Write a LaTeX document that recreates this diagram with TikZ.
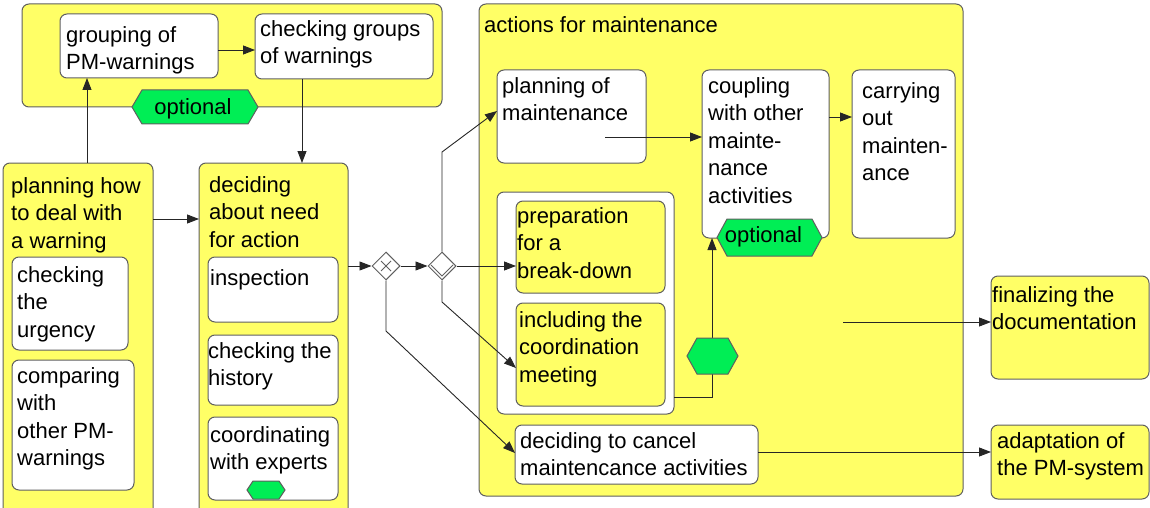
\documentclass[tikz,border=0pt]{standalone}
\usepackage{fontspec}
\setmainfont{Liberation Sans}
\usetikzlibrary{arrows.meta,shapes.geometric}
\definecolor{ylw}{RGB}{255,255,102}
\definecolor{grn}{RGB}{0,238,85}
\definecolor{edgec}{RGB}{95,95,95}
\newcommand\bxfont{\fontsize{22}{27.5}\selectfont}
\newcommand\hexshape[6]{%
  \draw[hexs] ({#2-#4},#3) -- ({#2-#4+#6},{#3-#5}) -- ({#2+#4-#6},{#3-#5}) -- ({#2+#4},#3) -- ({#2+#4-#6},{#3+#5}) -- ({#2-#4+#6},{#3+#5}) -- cycle;
  \coordinate (#1) at (#2,#3);}
\begin{document}
\begin{tikzpicture}[x=1pt,y=-1pt,
  box/.style={draw=edgec, line width=1pt, rounded corners=7pt, anchor=north west, inner sep=0pt, outer sep=0pt},
  ybox/.style={box, fill=ylw},
  wbox/.style={box, fill=white},
  txt/.style={anchor=north west, inner sep=0pt, align=left, font=\bxfont},
  ctxt/.style={anchor=base, inner sep=0pt, font=\bxfont},
  conn/.style={draw=black!85, line width=0.9pt},
  arr/.style={conn, -{Triangle[length=12pt,width=9pt]}},
  gw/.style={diamond, draw=edgec, fill=white, line width=1pt, minimum width=28pt, minimum height=28pt, inner sep=0pt},
  hexs/.style={draw=edgec, fill=grn, line width=1pt}]
\useasboundingbox (0,0) rectangle (1150,508);
\clip (0,0) rectangle (1150,508);
% top group
\node[ybox, minimum width=420pt, minimum height=103pt] (topg) at (22,4) {};
\node[wbox, minimum width=158pt, minimum height=64pt] (grp) at (60,14) {};
\node[wbox, minimum width=178pt, minimum height=65pt] (chk) at (255,14) {};
\hexshape{opt1}{195}{107}{63}{17}{10}
% left columns
\node[ybox, minimum width=150pt, minimum height=357pt] (plan) at (3,163) {};
\node[wbox, minimum width=116pt, minimum height=93pt] (urg) at (12,257) {};
\node[wbox, minimum width=122pt, minimum height=130pt] (cmp) at (12,360) {};
\node[ybox, minimum width=149pt, minimum height=357pt] (dec) at (199,163) {};
\node[wbox, minimum width=130pt, minimum height=65pt] (insp) at (208,257) {};
\node[wbox, minimum width=130pt, minimum height=70pt] (hist) at (208,335) {};
\node[wbox, minimum width=130pt, minimum height=83pt] (coord) at (208,417) {};
\hexshape{opt2}{266}{490}{19}{9}{6}
% actions for maintenance
\node[ybox, minimum width=484pt, minimum height=492pt] (act) at (479,4) {};
\node[wbox, minimum width=149pt, minimum height=93pt] (pom) at (497,70) {};
\node[wbox, minimum width=127pt, minimum height=168pt] (coup) at (702,70) {};
\node[wbox, minimum width=103pt, minimum height=168pt] (carry) at (852,70) {};
\node[wbox, minimum width=177pt, minimum height=222pt] (cont) at (497,192) {};
\node[ybox, minimum width=149pt, minimum height=92pt] (prep) at (516,201) {};
\node[ybox, minimum width=149pt, minimum height=103pt] (inc) at (516,303) {};
\node[wbox, minimum width=243pt, minimum height=59pt] (cancel) at (515,425) {};
% right boxes
\node[ybox, minimum width=158pt, minimum height=103pt] (fin) at (991,276) {};
\node[ybox, minimum width=158pt, minimum height=74pt] (adapt) at (991,425) {};
% gateways
\node[gw] (xor) at (386,266) {};
\node[gw] (gwb) at (442,266) {};
\draw[edgec, line width=0.9pt] ([shift={(-5,-5)}]xor.center) -- ([shift={(5,5)}]xor.center)
  ([shift={(-5,5)}]xor.center) -- ([shift={(5,-5)}]xor.center);
\draw[edgec, line width=0.9pt] ([shift={(-11,-1)}]gwb.center) -- ([shift={(0,10)}]gwb.center) -- ([shift={(11,-1)}]gwb.center);
% free ends
\coordinate (pomout) at (605,137);
\coordinate (actout) at (843,322);
% connectors
\draw[arr] (grp.east |- 0,50) -- (chk.west |- 0,50);
\draw[arr] (plan.north -| 87,0) -- (grp.south -| 87,0);
\draw[arr] (chk.south -| 302,0) -- (dec.north -| 302,0);
\draw[arr] (plan.east |- 0,219) -- (dec.west |- 0,219);
\draw[arr] (dec.east |- xor) -- (xor.west);
\draw[arr] (xor.east) -- (gwb.west);
\draw[arr] (gwb.east) -- (prep.west |- gwb);
\draw[arr] (gwb.north) -- (gwb.north |- 0,152) -- (pom.west |- 0,111);
\draw[arr] (gwb.south) -- (gwb.south |- 0,302) -- (inc.west |- 0,368);
\draw[arr] (xor.south) -- (xor.south |- 0,331) -- (cancel.west |- 0,453);
\draw[arr] (pomout) -- (coup.west |- pomout);
\draw[arr] (coup.east |- 0,117) -- (carry.west |- 0,117);
\draw[arr] (cont.east |- 0,397) -| (coup.south -| 712,0);
\draw[arr] (cancel.east |- 0,452) -- (adapt.west |- 0,452);
\draw[arr] (actout) -- (fin.west |- actout);
% hexagons over lines
\hexshape{opt3}{769.5}{237.5}{52.5}{18.5}{10}
\hexshape{opt4}{712.5}{356}{25.5}{18}{10}
% texts
\node[txt] (t-grp) at (66,22.75) {\strut grouping of\\PM-warnings};
\node[txt] (t-chk) at (260,16.75) {\strut checking groups\\of warnings};
\node[ctxt] (t-opt1) at (193,115) {optional};
\node[txt] (t-plan) at (11,173.75) {\strut planning how\\to deal with\\a warning};
\node[txt] (t-urg) at (17,262.75) {\strut checking\\the\\urgency};
\node[txt] (t-cmp) at (17,363.75) {\strut comparing\\with\\other PM-\\warnings};
\node[txt] (t-dec) at (209,172.75) {\strut deciding\\about need\\for action};
\node[txt] (t-insp) at (210,265.75) {\strut inspection};
\node[txt] (t-hist) at (208,338.75) {\strut checking the\\history};
\node[txt] (t-coord) at (210,422.75) {\strut coordinating\\with experts};
\node[txt] (t-act) at (484,12.75) {\strut actions for maintenance};
\node[txt] (t-pom) at (502,73.75) {\strut planning of\\maintenance};
\node[txt] (t-coup) at (708,73.75) {\strut coupling\\with other\\mainte-\\nance\\activities};
\node[ctxt] (t-opt3) at (763.5,242) {optional};
\node[txt] (t-carry) at (862,78.75) {\strut carrying\\out\\mainten-\\ance};
\node[txt] (t-prep) at (517,203.75) {\strut preparation\\for a\\break-down};
\node[txt] (t-inc) at (519,307.75) {\strut including the\\coordination\\meeting};
\node[txt] (t-cancel) at (520,428.75) {\strut deciding to cancel\\maintencance activities};
\node[txt] (t-fin) at (992,282.75) {\strut finalizing the\\documentation};
\node[txt] (t-adapt) at (997,428.75) {\strut adaptation of\\the PM-system};
\end{tikzpicture}
\end{document}
